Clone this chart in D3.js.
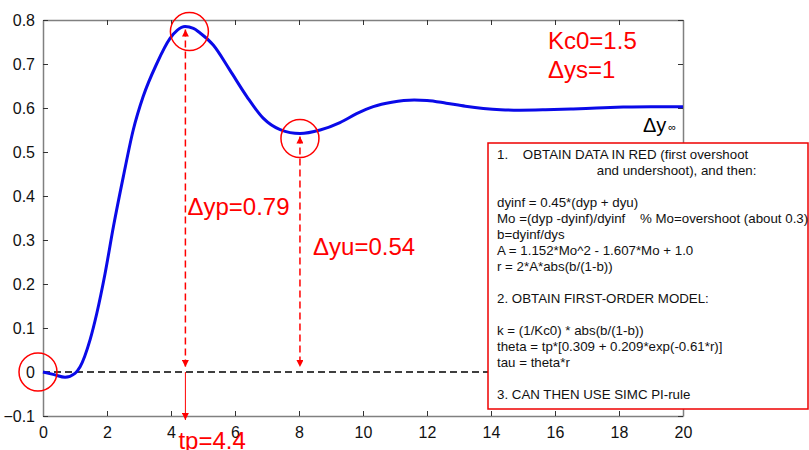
<!DOCTYPE html>
<html>
<head>
<meta charset="utf-8">
<script src="https://cdn.jsdelivr.net/npm/d3@7"></script>
<style>
  body { margin: 0; background: #fff; }
  svg { display: block; font-family: Arial, "Liberation Sans", sans-serif; }
</style>
</head>
<body>
<div id="chart"></div>
<script>
// step response (time, output)
let timeVals = [0, 0.35, 0.69, 1.0, 1.16, 1.47, 1.68, 1.94, 2.2, 2.51, 2.82, 3.13, 3.55, 3.97, 4.2, 4.44, 4.7, 4.9, 5.32, 5.84, 6.37, 6.88, 7.41, 8.03, 8.66, 9.28, 9.8, 10.32, 10.9, 11.6, 12.0, 12.6, 13.2, 13.76, 14.3, 14.9, 15.7, 16.57, 17.3, 18.13, 19.0, 20];
let responseVals = [0, -0.006, -0.012, -0.003, 0.012, 0.073, 0.133, 0.224, 0.330, 0.444, 0.55, 0.626, 0.70, 0.758, 0.777, 0.785, 0.781, 0.771, 0.743, 0.686, 0.626, 0.577, 0.551, 0.542, 0.55, 0.567, 0.587, 0.603, 0.613, 0.618, 0.617, 0.611, 0.604, 0.599, 0.596, 0.595, 0.596, 0.598, 0.600, 0.602, 0.603, 0.603];

let xTicks = [0, 2, 4, 6, 8, 10, 12, 14, 16, 18, 20];
let yTicks = [-0.1, 0, 0.1, 0.2, 0.3, 0.4, 0.5, 0.6, 0.7, 0.8];

// marked points: start, first overshoot, first undershoot
let markT = [0, 4.45, 8.03];
let markY = [0, 0.785, 0.542];

let notes = ['Kc0=1.5', 'Δys=1'];
let boxLines = [
  '1.    OBTAIN DATA IN RED (first overshoot',
  '                           and undershoot), and then:',
  '',
  'dyinf = 0.45*(dyp + dyu)',
  'Mo =(dyp -dyinf)/dyinf    % Mo=overshoot (about 0.3)',
  'b=dyinf/dys',
  'A = 1.152*Mo^2 - 1.607*Mo + 1.0',
  'r = 2*A*abs(b/(1-b))',
  '',
  '2. OBTAIN FIRST-ORDER MODEL:',
  '',
  'k = (1/Kc0) * abs(b/(1-b))',
  'theta = tp*[0.309 + 0.209*exp(-0.61*r)]',
  'tau = theta*r',
  '',
  '3. CAN THEN USE SIMC PI-rule'
];

let width = 809, height = 450;
let margin = {top: 20, left: 43};
let plotW = 640, plotH = 396;

let svg = d3.select('#chart').append('svg')
  .attr('width', width)
  .attr('height', height);

let x = d3.scaleLinear().domain([0, 20]).range([margin.left, margin.left + plotW]);
let y = d3.scaleLinear().domain([-0.1, 0.8]).range([margin.top + plotH, margin.top]);

// arrow head
svg.append('defs').append('marker')
  .attr('id', 'arrow')
  .attr('viewBox', '0 0 10 10')
  .attr('refX', 10).attr('refY', 5)
  .attr('markerWidth', 7).attr('markerHeight', 7)
  .attr('markerUnits', 'userSpaceOnUse')
  .attr('orient', 'auto-start-reverse')
  .append('path')
  .attr('d', 'M0,0 L10,5 L0,10 z')
  .attr('fill', '#f00');

// axes box (ticks inward on all four sides)
let axisCol = '#808080';
let gBottom = svg.append('g').attr('transform', `translate(0,${y(-0.1)})`)
  .call(d3.axisBottom(x).tickValues(xTicks).tickSizeInner(-5).tickSizeOuter(0).tickPadding(8).tickFormat(d3.format('d')));
let gTop = svg.append('g').attr('transform', `translate(0,${y(0.8)})`)
  .call(d3.axisTop(x).tickValues(xTicks).tickSizeInner(-5).tickSizeOuter(0).tickFormat(''));
let gLeft = svg.append('g').attr('transform', `translate(${x(0)},0)`)
  .call(d3.axisLeft(y).tickValues(yTicks).tickSizeInner(-5).tickSizeOuter(0).tickPadding(8).tickFormat(d => d === 0 ? '0' : d3.format('.1f')(d)));
let gRight = svg.append('g').attr('transform', `translate(${x(20)},0)`)
  .call(d3.axisRight(y).tickValues(yTicks).tickSizeInner(-5).tickSizeOuter(0).tickFormat(''));

[gBottom, gTop, gLeft, gRight].forEach(g => {
  g.select('.domain').attr('stroke', axisCol).attr('stroke-width', 1.5);
  g.selectAll('.tick line').attr('stroke', '#333');
  g.selectAll('.tick text').attr('fill', '#111').style('font-size', '16px');
});
gBottom.selectAll('.tick text').attr('dy', '0.9em');

// zero reference
svg.append('line')
  .attr('x1', x(0)).attr('x2', x(14))
  .attr('y1', y(0)).attr('y2', y(0))
  .attr('stroke', '#000').attr('stroke-width', 1.5)
  .attr('stroke-dasharray', '7,4');

// response curve
let line = d3.line()
  .x((d, i) => x(timeVals[i]))
  .y(d => y(d))
  .curve(d3.curveMonotoneX);

svg.append('path')
  .datum(responseVals)
  .attr('d', line)
  .attr('fill', 'none')
  .attr('stroke', '#0a0ae8')
  .attr('stroke-width', 3);

// circles round the marked points
svg.selectAll('.mark')
  .data(markT)
  .enter().append('circle')
  .attr('class', 'mark')
  .attr('cx', (d, i) => x(d) + (i === 0 ? -5 : i === 1 ? 4 : 0))
  .attr('cy', (d, i) => y(markY[i]) + (i === 0 ? 0 : 5))
  .attr('r', 19)
  .attr('fill', 'none')
  .attr('stroke', '#f00')
  .attr('stroke-width', 1.5);

// double arrows for dyp and dyu
[1, 2].forEach(i => {
  svg.append('line')
    .attr('x1', x(markT[i])).attr('x2', x(markT[i]))
    .attr('y1', y(markY[i]) + 3).attr('y2', y(0) - 5)
    .attr('stroke', '#f00').attr('stroke-width', 1.5)
    .attr('stroke-dasharray', '7,4')
    .attr('marker-start', 'url(#arrow)')
    .attr('marker-end', 'url(#arrow)');
});

// tp arrow down to time axis
svg.append('line')
  .attr('x1', x(markT[1])).attr('x2', x(markT[1]))
  .attr('y1', y(0)).attr('y2', y(-0.1) + 4)
  .attr('stroke', '#f00').attr('stroke-width', 1)
  .attr('marker-end', 'url(#arrow)');

let red = svg.append('g').attr('fill', '#f00').style('font-size', '24px');
red.append('text').attr('x', x(markT[1]) + 2).attr('y', 215).text('Δyp=0.79');
red.append('text').attr('x', 313).attr('y', 255).text('Δyu=' + markY[2].toFixed(2));
red.append('text').attr('x', x(markT[1]) - 7).attr('y', 449).text('tp=4.4');
red.selectAll('.note')
  .data(notes)
  .enter().append('text')
  .attr('class', 'note')
  .attr('x', 548)
  .attr('y', (d, i) => 49 + i * 29)
  .text(d => d);

// steady state label
let inf = svg.append('text').attr('x', 643).attr('y', 132).attr('fill', '#000').style('font-size', '20px');
inf.append('tspan').text('Δy');
inf.append('tspan').attr('dx', 2).attr('dy', -1).style('font-size', '11px').text('∞');

// recipe box
svg.append('rect')
  .attr('x', 488).attr('y', 143)
  .attr('width', 320).attr('height', 266)
  .attr('fill', '#fff')
  .attr('stroke', '#e00')
  .attr('stroke-width', 1.5);

svg.append('g')
  .selectAll('text')
  .data(boxLines)
  .enter().append('text')
  .attr('x', 497)
  .attr('y', (d, i) => 159 + i * 16)
  .attr('fill', '#111')
  .style('font-size', '13.3px')
  .style('white-space', 'pre')
  .text(d => d);
</script>
</body>
</html>
